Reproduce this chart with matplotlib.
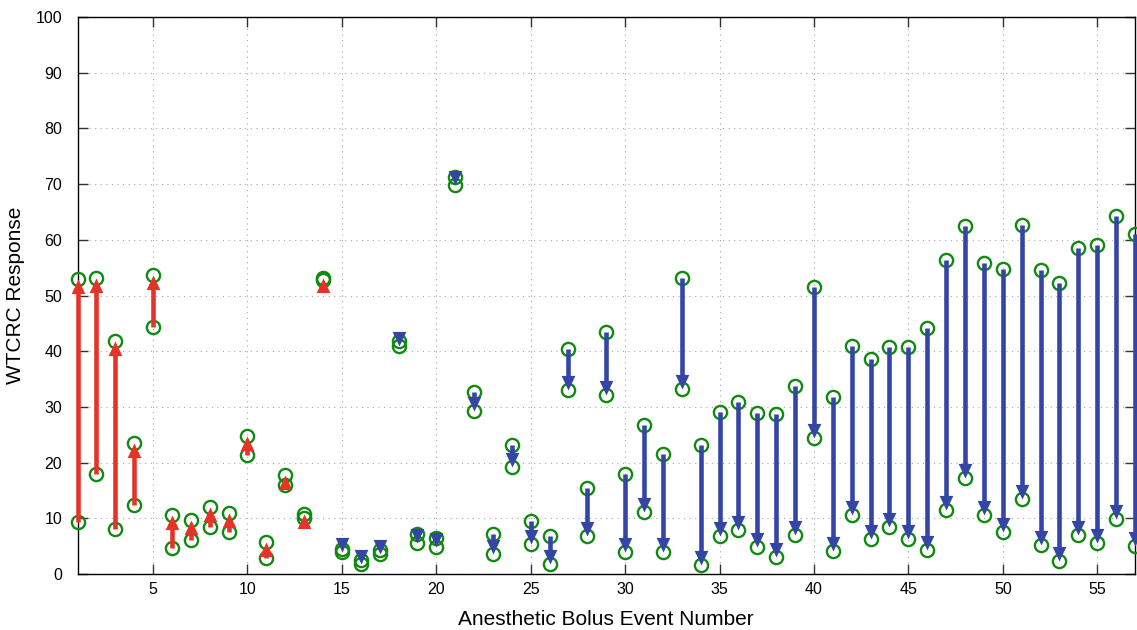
import numpy as np
import matplotlib
matplotlib.use("Agg")
import matplotlib.pyplot as plt
from matplotlib.path import Path

plt.rcParams['font.family'] = ['Liberation Sans', 'DejaVu Sans']

# response before / after each anesthetic bolus
event = np.arange(1, 58)
before = [9.4, 17.9, 8.1, 12.3, 44.3, 4.6, 6.1, 8.5, 7.6, 21.3,
          2.8, 15.9, 10.1, 52.8, 4.5, 2.6, 4.3, 41.8, 7.2, 6.5,
          71.3, 32.7, 7.2, 23.2, 9.6, 6.9, 40.4, 15.4, 43.5, 18.0,
          26.8, 21.5, 53.1, 23.2, 29.0, 30.8, 28.9, 28.7, 33.8, 51.5,
          31.7, 41.0, 38.6, 40.8, 40.8, 44.1, 56.3, 62.5, 55.8, 54.8,
          62.6, 54.6, 52.2, 58.6, 59.0, 64.3, 61.0]
after = [53.0, 53.2, 41.9, 23.5, 53.6, 10.6, 9.7, 12.0, 10.9, 24.7,
         5.8, 17.8, 10.8, 53.1, 3.9, 1.8, 3.6, 41.0, 5.5, 4.9,
         69.8, 29.2, 3.5, 19.2, 5.4, 1.8, 33.1, 6.9, 32.2, 4.0,
         11.1, 3.9, 33.3, 1.6, 6.9, 7.9, 4.8, 3.1, 7.0, 24.5,
         4.1, 10.6, 6.2, 8.5, 6.2, 4.3, 11.4, 17.3, 10.6, 7.5,
         13.5, 5.2, 2.3, 7.0, 5.5, 9.9, 5.1]

RED = '#e5332a'
BLUE = '#3445a6'
GREEN = '#118a11'

# arrow head markers with the tip at the data point
head_up = Path([(0, 0), (-0.47, -1), (0.47, -1), (0, 0)],
               [Path.MOVETO, Path.LINETO, Path.LINETO, Path.CLOSEPOLY])
head_dn = Path([(0, 0), (-0.47, 1), (0.47, 1), (0, 0)],
               [Path.MOVETO, Path.LINETO, Path.LINETO, Path.CLOSEPOLY])

fig = plt.figure(figsize=(11.37, 6.3), dpi=100)
ax = fig.add_axes([0.0682, 0.0889, 0.9300, 0.8841])

ax.plot(event, before, 'o', mfc='none', mec=GREEN, mew=1.7, ms=9.5, zorder=3, clip_on=False)
ax.plot(event, after, 'o', mfc='none', mec=GREEN, mew=1.7, ms=9.5, zorder=3, clip_on=False)

for x, s, e in zip(event, before, after):
    up = e > s
    col = RED if up else BLUE
    d = e - s
    # stop the shaft a little before the tip so it hides under the head
    shaft_end = e - np.sign(d) * min(1.5, abs(d))
    ax.plot([x, x], [s, shaft_end], color=col, lw=3.3, solid_capstyle='butt',
            zorder=4, clip_on=False)
    ax.plot([x], [e], marker=head_up if up else head_dn, ms=21, color=col,
            mew=0, zorder=5, clip_on=False)

ax.set_xlim(1, 57)
ax.set_ylim(0, 100)
ax.set_xticks(np.arange(5, 56, 5))
ax.set_yticks(np.arange(0, 101, 10))
ax.grid(True, linestyle=(0, (1, 4)), color='#a8a8a8', lw=0.8)
ax.tick_params(direction='in', length=7, width=1, top=True, right=True,
               labelsize=11.5, color='#333333')
ax.tick_params(axis='x', pad=6)
ax.tick_params(axis='y', pad=11)
for sp in ax.spines.values():
    sp.set_linewidth(1)
ax.set_xlabel('Anesthetic Bolus Event Number', fontsize=15, labelpad=9)
ax.set_ylabel('WTCRC Response', fontsize=15, labelpad=8)

fig.savefig('out.png', dpi=100)
